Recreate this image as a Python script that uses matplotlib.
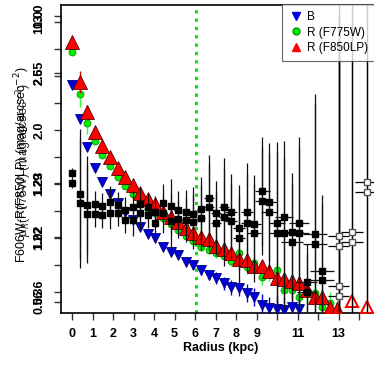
import matplotlib
matplotlib.use("Agg")
import matplotlib.pyplot as plt
from matplotlib.lines import Line2D

plt.rcParams['font.family'] = ['Liberation Sans', 'DejaVu Sans']

# radial positions (kpc)
r_color = [0.0, 0.39, 0.73, 1.12, 1.46, 1.85, 2.24, 2.59, 2.98, 3.32, 3.71, 4.05,
           4.44, 4.83, 5.17, 5.56, 5.9, 6.29, 6.68, 7.02, 7.41, 7.76, 8.15, 8.54,
           8.88, 9.27, 9.61, 10.0, 10.34, 10.73, 11.07, 11.46, 11.85, 12.2, 12.59,
           12.93]

# B band (filled down triangles)
b_val = [2.417, 2.102, 1.843, 1.648, 1.519, 1.407, 1.324, 1.241, 1.167, 1.102,
         1.037, 1.0, 0.917, 0.87, 0.843, 0.778, 0.75, 0.704, 0.657, 0.63, 0.583,
         0.546, 0.537, 0.491, 0.454, 0.38, 0.352, 0.343, 0.333, 0.361, 0.343]
b_err = [0.02, 0.02, 0.02, 0.02, 0.02, 0.02, 0.02, 0.02, 0.02, 0.02, 0.02, 0.02,
         0.03, 0.03, 0.03, 0.04, 0.04, 0.05, 0.05, 0.06, 0.06, 0.07, 0.07, 0.08,
         0.08, 0.1, 0.1, 0.12, 0.12, 0.14, 0.15]

# R (F775W)
g_val = [2.722, 2.333, 2.065, 1.898, 1.769, 1.667, 1.565, 1.481, 1.407, 1.333,
         1.269, 1.231, 1.185, 1.13, 1.074, 1.019, 0.972, 0.917, 0.889, 0.861,
         0.833, 0.787, 0.861, 0.731, 0.769, 0.639, 0.676, 0.704, 0.519, 0.519,
         0.454, 0.491, 0.491, 0.361, 0.398]
g_err = [0.02, 0.12, 0.1, 0.03, 0.03, 0.03, 0.03, 0.03, 0.03, 0.03, 0.03, 0.03,
         0.03, 0.03, 0.03, 0.03, 0.04, 0.04, 0.04, 0.05, 0.05, 0.05, 0.06, 0.06,
         0.06, 0.07, 0.07, 0.08, 0.08, 0.08, 0.09, 0.09, 0.1, 0.1, 0.1]

# R (F850LP)
r_val = [2.815, 2.444, 2.167, 1.981, 1.852, 1.75, 1.648, 1.565, 1.491, 1.417,
         1.361, 1.315, 1.241, 1.194, 1.148, 1.093, 1.046, 1.009, 0.991, 0.926,
         0.898, 0.861, 0.806, 0.796, 0.741, 0.741, 0.694, 0.63, 0.62, 0.602,
         0.583, 0.519, 0.454, 0.454, 0.352, 0.343]
r_err = [0.02, 0.1, 0.06, 0.02, 0.02, 0.02, 0.02, 0.02, 0.02, 0.02, 0.02, 0.02,
         0.02, 0.02, 0.02, 0.02, 0.02, 0.03, 0.03, 0.03, 0.03, 0.03, 0.04, 0.04,
         0.04, 0.04, 0.05, 0.05, 0.05, 0.05, 0.06, 0.06, 0.06, 0.07, 0.07, 0.07]
r_open_x = [13.66, 14.39]
r_open_val = [0.417, 0.361]

# F606W - R colour profiles (two black series)
k_upper = [1.602, 1.407, 1.306, 1.315, 1.296, 1.333, 1.306, 1.259, 1.287, 1.315,
           1.287, 1.241, 1.324, 1.296, 1.259, 1.241, 1.222, 1.269, 1.37, 1.231,
           1.287, 1.241, 1.093, 1.241, 1.13, 1.435, 1.333, 1.139, 1.194, 1.056,
           1.139, 0.593, 1.037, 0.694]
k_lower = [1.509, 1.324, 1.222, 1.222, 1.213, 1.231, 1.231, 1.167, 1.167, 1.231,
           1.213, 1.139, 1.231, 1.157, 1.176, 1.167, 1.148, 1.185, 1.287, 1.139,
           1.194, 1.157, 1.0, 1.139, 1.046, 1.343, 1.241, 1.046, 1.046, 0.963,
           1.046, 0.5, 0.944, 0.611]
k_err = [0.05, 0.6, 0.45, 0.12, 0.12, 0.15, 0.12, 0.12, 0.15, 0.15, 0.12, 0.15,
         0.18, 0.25, 0.18, 0.2, 0.25, 0.3, 0.4, 0.3, 0.45, 0.35, 0.4, 0.45, 0.45,
         0.5, 0.55, 0.75, 0.7, 0.55, 0.8, 0.35, 1.3, 0.7]
k_xerr = [0.05, 0.1, 0.1, 0.1, 0.1, 0.1, 0.1, 0.12, 0.12, 0.12, 0.15, 0.15, 0.15,
          0.15, 0.18, 0.18, 0.2, 0.2, 0.25, 0.25, 0.25, 0.3, 0.3, 0.3, 0.35, 0.37,
          0.4, 0.4, 0.45, 0.55, 0.5, 0.5, 0.6, 0.6]
# outer points (open squares)
k_open_x = [13.0, 13.0, 13.0, 13.0, 13.66, 13.66, 14.39, 14.39]
k_open_val = [1.019, 0.926, 0.556, 0.463, 1.056, 0.963, 1.519, 1.426]
k_open_err = [2.5, 2.5, 2.5, 2.5, 2.5, 2.5, 2.5, 2.5]
k_open_xerr = [0.5, 0.5, 0.5, 0.5, 0.55, 0.55, 0.6, 0.6]

r_break = 6.05

# y ticks: two overlapping axis scales
y_major = [0.5, 0.75, 1.0, 1.25, 1.5, 1.75, 2.0, 2.25, 2.5, 2.75, 3.0]
y_major_lab = ["0.36", "", "1.22", "", "1.29", "", "2.0", "", "2.5", "", "10.0"]
y_minor = [0.41, 1.009, 1.509, 2.528, 3.056]
y_minor_lab = ["0.56", "1.02", "1.23", "2.65", "13.0"]
x_ticks = list(range(0, 15))
x_lab = ["0", "1", "2", "3", "4", "5", "6", "7", "8", "9", "", "11", "", "13", ""]

fig = plt.figure(figsize=(3.74, 3.74), dpi=100)
ax = fig.add_axes([61 / 374, 61 / 374, 319 / 374, 308 / 374])

n_b = len(b_val)
ax.errorbar(r_color[:n_b], b_val, yerr=b_err, fmt='v', ms=6.5, color='#0000DD',
            mec='#000080', mew=0.6, ecolor='#0000DD', elinewidth=1, zorder=3)
n_g = len(g_val)
ax.errorbar(r_color[:n_g], g_val, yerr=g_err, fmt='o', ms=5, color='#00EE00',
            mec='#009900', mew=0.6, ecolor='#33FF33', elinewidth=1, zorder=4)
ax.errorbar(r_color, r_val, yerr=r_err, fmt='^', ms=9.5, color='#FF0000',
            mec='#550000', mew=0.6, ecolor='#CC0000', elinewidth=1, zorder=5)
ax.plot(r_open_x, r_open_val, '^', ms=9, mfc='white', mec='#FF0000', mew=1.5,
        zorder=5)

n_k = len(k_upper)
for vals in (k_upper, k_lower):
    ax.errorbar(r_color[:n_k], vals, yerr=k_err, xerr=k_xerr, fmt='s', ms=4.5,
                color='black', ecolor='#111111', elinewidth=0.9, zorder=6)
ax.errorbar(k_open_x, k_open_val, yerr=k_open_err, xerr=k_open_xerr, fmt='s',
            ms=4.5, mfc='white', mec='#555555', ecolor='black', elinewidth=0.9,
            zorder=6)

ax.axvline(r_break, color='#00DD00', ls=(0, (1.2, 1.8)), lw=2, zorder=2)

ax.set_xlim(-0.54, 15.02)
ax.set_ylim(0.306, 3.157)

ax.set_xticks(x_ticks)
ax.set_xticklabels(x_lab, fontsize=9, fontweight='bold')
ax.set_yticks(y_major)
ax.set_yticklabels(y_major_lab, fontsize=9, fontweight='bold', rotation=90,
                   va='center')
ax.set_yticks(y_minor, minor=True)
ax.set_yticklabels(y_minor_lab, minor=True, fontsize=9, fontweight='bold',
                   rotation=90, va='center')
ax.tick_params(axis='both', which='both', direction='out', length=5, width=1,
               color='#333333')
ax.tick_params(axis='y', which='both', pad=6)
ax.tick_params(axis='x', pad=6)
for s in ax.spines.values():
    s.set_linewidth(1.2)

ax.set_xlabel("Radius (kpc)", fontsize=9, fontweight='bold', labelpad=1)
fig.text(22 / 374, 1 - 165 / 374, "F606W-R(F850LP) (mag/arcsec$^{-2}$)",
         rotation=90, ha='center', va='center', fontsize=9)
fig.text(24 / 374, 1 - 160 / 374, r"$\mu_{R}$(F775W) (mag/arcsec$^{-2}$)",
         rotation=90, ha='center', va='center', fontsize=9, alpha=0.85)

handles = [Line2D([], [], ls='none', marker='v', ms=6, color='#0000DD'),
           Line2D([], [], ls='none', marker='o', ms=5, color='#00EE00',
                  mec='#009900'),
           Line2D([], [], ls='none', marker='^', ms=6, color='#FF0000')]
leg = fig.legend(handles, ["B", "R (F775W)", "R (F850LP)"], loc='upper left',
                 bbox_to_anchor=(282 / 374, 1 - 4 / 374), fontsize=8.5,
                 frameon=True, fancybox=False, edgecolor='#444444',
                 borderaxespad=0, handletextpad=0.3, handlelength=1.2,
                 labelspacing=0.3, borderpad=0.6)
leg.get_frame().set_linewidth(0.8)

fig.savefig("out.png", dpi=100)
